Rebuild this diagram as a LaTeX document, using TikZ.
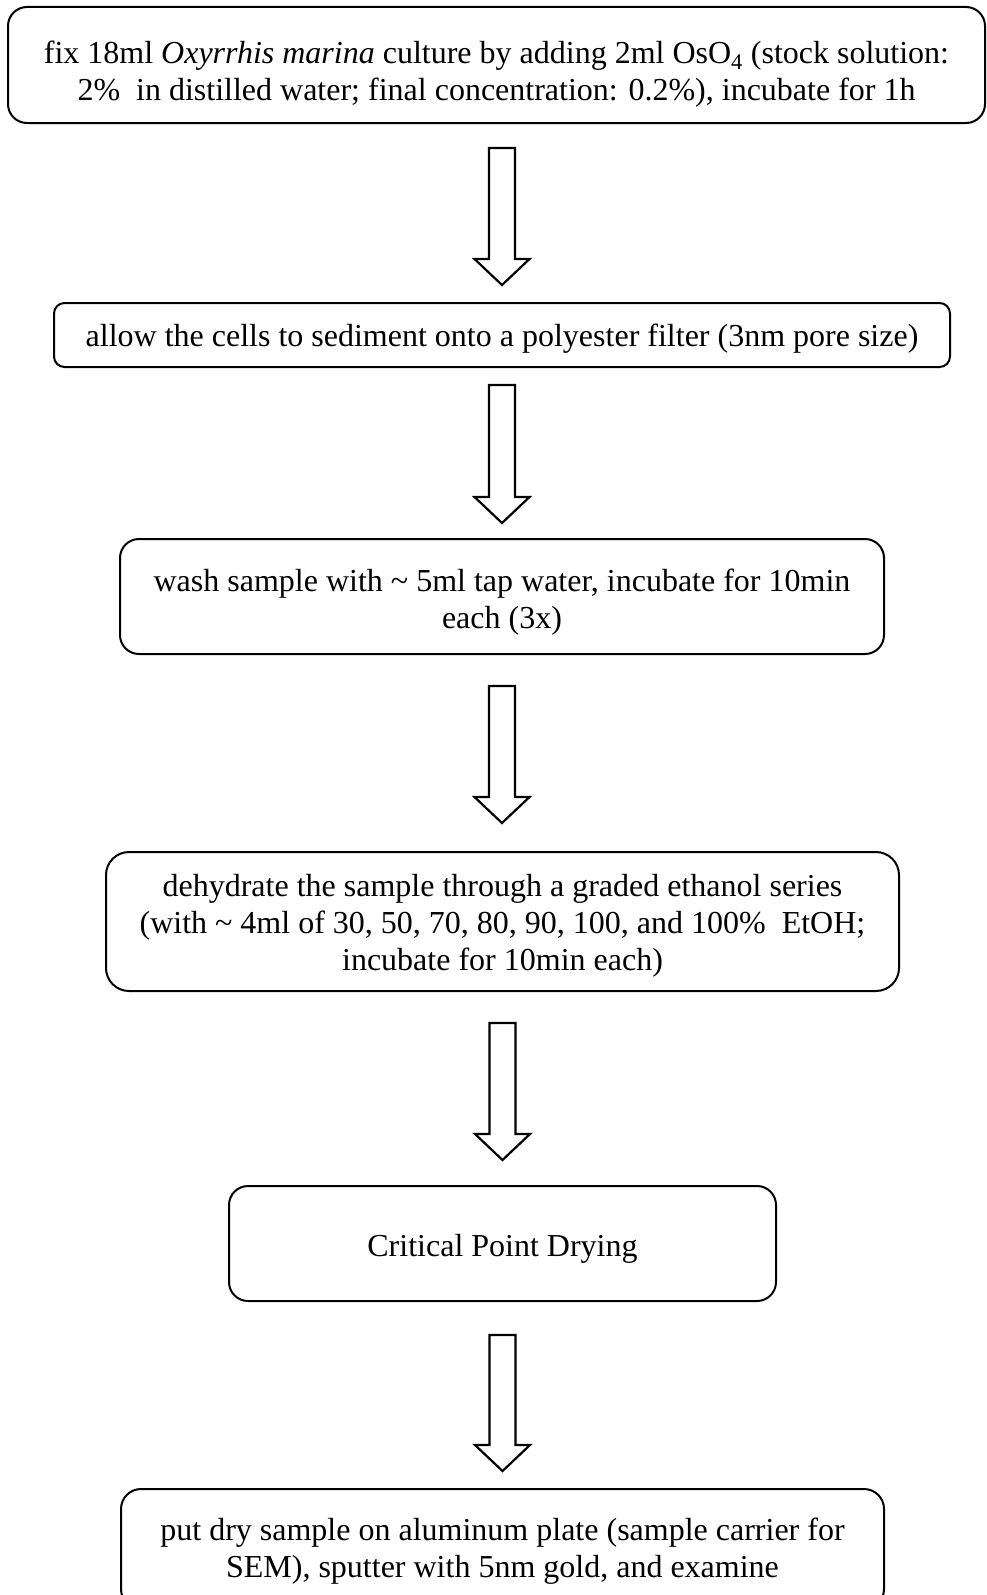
\documentclass[tikz,border=0pt]{standalone}
\usepackage{fontspec}
\setmainfont{Liberation Serif}
\usetikzlibrary{calc}

\tikzset{
  stepbox/.style={draw=black, line width=2pt, fill=white, inner sep=0pt},
  steptext/.style={align=center, inner sep=0pt, font=\fontsize{32}{36.8}\selectfont},
  blockarrow/.style={draw=black, line width=2.2pt, fill=white, line join=miter},
}

% hollow block arrow: #1 = top centre of the shaft, #2 = tip
\newcommand\hollowarrow[2]{%
  \draw[blockarrow] let \p1=#1, \p2=#2 in
    (\x1-13pt,\y1) -- (\x1+13pt,\y1) -- (\x1+13pt,\y2+26pt) -- (\x1+27.5pt,\y2+26pt)
    -- (\x1,\y2) -- (\x1-27.5pt,\y2+26pt) -- (\x1-13pt,\y2+26pt) -- cycle;}

\begin{document}
\begin{tikzpicture}[x=1pt, y=-1pt]
  \useasboundingbox (0,0) rectangle (986,1595);
  \clip (0,0) rectangle (986,1595);

  % step boxes
  \node[stepbox, rounded corners=19pt, minimum width=977pt, minimum height=116pt]
    (b1) at (496.5,65) {};
  \node[stepbox, rounded corners=10.5pt, minimum width=896pt, minimum height=64pt]
    (b2) at (502,335) {};
  \node[stepbox, rounded corners=19pt, minimum width=764pt, minimum height=115pt]
    (b3) at (502,596.5) {};
  \node[stepbox, rounded corners=23pt, minimum width=793pt, minimum height=139pt]
    (b4) at (502.5,921.5) {};
  \node[stepbox, rounded corners=19pt, minimum width=547pt, minimum height=115pt]
    (b5) at (502.5,1243.5) {};
  \node[stepbox, rounded corners=20pt, minimum width=763pt, minimum height=120pt]
    (b6) at (502.5,1549) {};

  % step texts
  \node[steptext] (t1) at ($(b1)+(0,9)$)
    {fix 18ml \textit{Oxyrrhis marina} culture by adding 2ml OsO\textsubscript{4} (stock solution:\\
     2\%\ \ in distilled water; final concentration: 0.2\%), incubate for 1h};
  \node[steptext] (t2) at ($(b2)+(0,4)$)
    {allow the cells to sediment onto a polyester filter (3nm pore size)};
  \node[steptext] (t3) at ($(b3)+(0,6)$)
    {wash sample with \textasciitilde\ 5ml tap water, incubate for 10min\\ each (3x)};
  \node[steptext] (t4) at ($(b4)+(0,4.5)$)
    {dehydrate the sample through a graded ethanol series\\
     (with \textasciitilde\ 4ml of 30, 50, 70, 80, 90, 100, and 100\%\ \ EtOH;\\
     incubate for 10min each)};
  \node[steptext] (t5) at ($(b5)+(0,5)$) {Critical Point Drying};
  \node[steptext] (t6) at ($(b6)+(0,2)$)
    {put dry sample on aluminum plate (sample carrier for\\
     SEM), sputter with 5nm gold, and examine};

  % arrows between the steps
  \hollowarrow{($(b1.south -| b2.north)+(0,24)$)}{($(b2.north)+(0,-17)$)}
  \hollowarrow{($(b2.south)+(0,17)$)}{($(b3.north)+(0,-15)$)}
  \hollowarrow{($(b3.south)+(0,31)$)}{($(b4.north)+(0,-28)$)}
  \hollowarrow{($(b4.south)+(0,31)$)}{($(b5.north)+(0,-25)$)}
  \hollowarrow{($(b5.south)+(0,33)$)}{($(b6.north)+(0,-17)$)}
\end{tikzpicture}
\end{document}
